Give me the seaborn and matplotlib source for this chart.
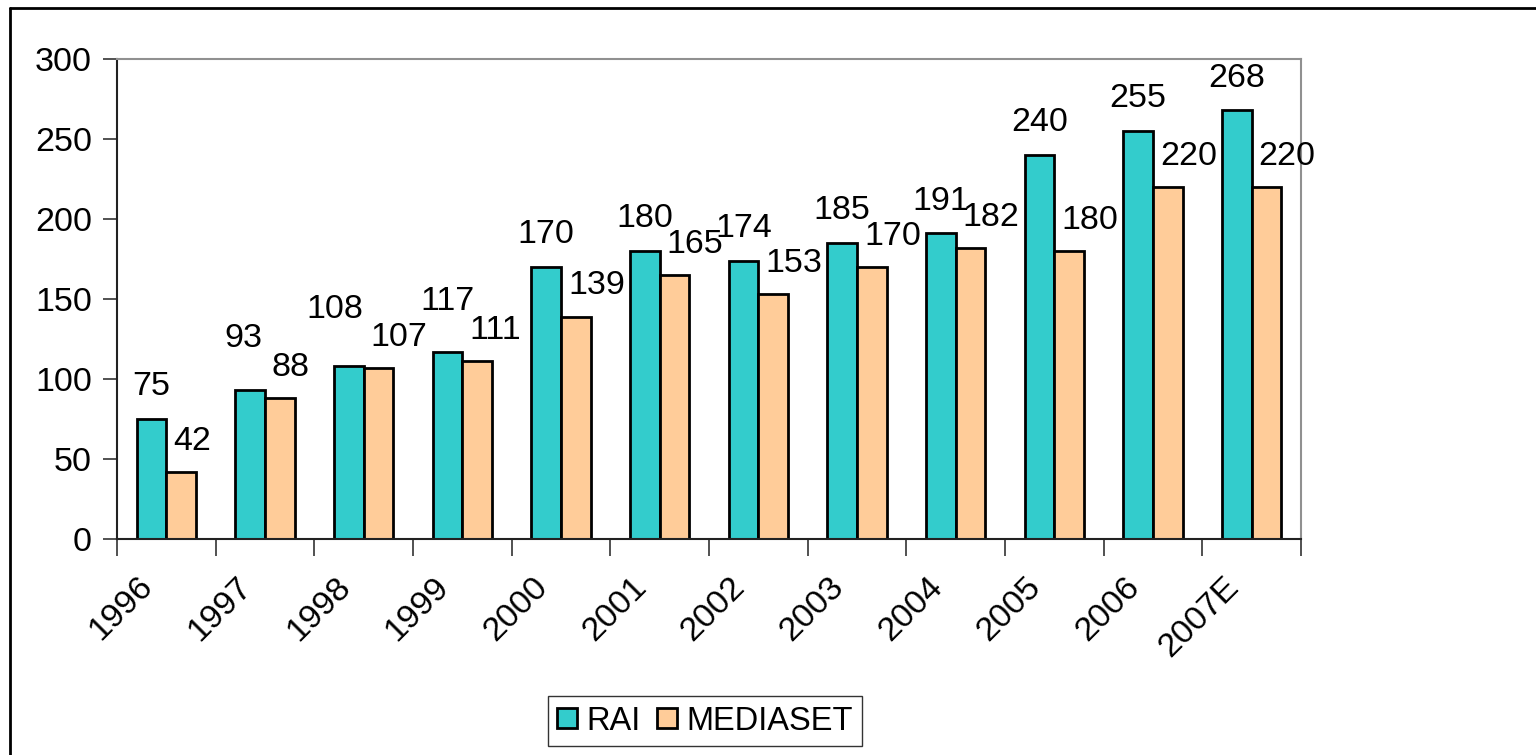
import matplotlib
matplotlib.use("Agg")
import matplotlib.pyplot as plt
import matplotlib.transforms as mtransforms
from matplotlib.lines import Line2D
import seaborn as sns
import pandas as pd

years = ["1996", "1997", "1998", "1999", "2000", "2001", "2002", "2003", "2004", "2005", "2006", "2007E"]
rai = [75, 93, 108, 117, 170, 180, 174, 185, 191, 240, 255, 268]
mediaset = [42, 88, 107, 111, 139, 165, 153, 170, 182, 180, 220, 220]
series_names = ["RAI", "MEDIASET"]
colors = ["#33CCCC", "#FFCC99"]
y_ticks = [0, 50, 100, 150, 200, 250, 300]
# label nudges (points) used in the original to avoid overlapping labels
rai_label_nudge = {"1997": (-5, 14), "1998": (-10, 18), "1999": (0, 13)}

df = pd.DataFrame({
    "year": years * 2,
    "company": [series_names[0]] * len(years) + [series_names[1]] * len(years),
    "value": rai + mediaset,
})

sns.set_theme(style="white")
plt.rcParams["font.family"] = ["Liberation Sans", "DejaVu Sans"]
plt.rcParams["text.color"] = "black"
plt.rcParams["xtick.color"] = "black"
plt.rcParams["ytick.color"] = "black"
plt.rcParams["xtick.labelcolor"] = "black"
plt.rcParams["ytick.labelcolor"] = "black"
FS = 24.5

fig = plt.figure(figsize=(15.36, 7.55), dpi=100)
ax = fig.add_axes([117 / 1536, 1 - 539 / 755, (1301 - 117) / 1536, (539 - 59) / 755])

sns.barplot(data=df, x="year", y="value", hue="company", order=years,
            hue_order=series_names, palette=colors, width=0.6, gap=0,
            edgecolor="black", linewidth=2.0, saturation=1, ax=ax, legend=True)

ax.set_xlim(-0.5, len(years) - 0.5)
ax.set_ylim(0, 300)
ax.set_yticks(y_ticks)
ax.set_yticklabels([str(t) for t in y_ticks], fontsize=FS)
ax.set_xlabel("")
ax.set_ylabel("")

# x ticks at category boundaries
ax.set_xticks(range(len(years)))
ax.set_xticklabels(years, fontsize=FS, rotation=45, ha="right", rotation_mode="anchor")
ax.set_xticks([i - 0.5 for i in range(len(years) + 1)], minor=True)
ax.tick_params(axis="x", which="major", length=0, pad=23)
ax.tick_params(axis="x", which="minor", length=12, width=1.2, color="#333333", direction="out", bottom=True)
ax.tick_params(axis="y", which="major", length=10, width=1.2, color="#333333", direction="out", left=True, pad=8)
offset = mtransforms.ScaledTranslation(-29 / 100, 0, fig.dpi_scale_trans)
for lbl in ax.get_xticklabels():
    lbl.set_transform(lbl.get_transform() + offset)

for side in ["top", "right"]:
    ax.spines[side].set_color("#909090")
    ax.spines[side].set_linewidth(1.5)
for side in ["left", "bottom"]:
    ax.spines[side].set_color("#222222")
    ax.spines[side].set_linewidth(1.5)
ax.grid(False)

# data labels
for ci, cont in enumerate(ax.containers):
    for yr, bar in zip(years, cont):
        h = bar.get_height()
        x = bar.get_x()
        w = bar.get_width()
        if ci == 0:
            dx, dy = rai_label_nudge.get(yr, (0, 0))
            ax.annotate(f"{int(round(h))}", (x + w / 2, h), xytext=(dx, 17 + dy),
                        textcoords="offset points", ha="center", va="baseline", fontsize=FS)
        else:
            ax.annotate(f"{int(round(h))}", (x, h), xytext=(5, 16),
                        textcoords="offset points", ha="left", va="baseline", fontsize=FS)

leg = ax.legend(loc="center", bbox_to_anchor=(705 / 1536, 1 - 721 / 755),
                bbox_transform=fig.transFigure, ncol=2, fontsize=23.5, frameon=True,
                fancybox=False, handlelength=0.6, handleheight=0.6, handletextpad=0.3,
                columnspacing=0.5, borderpad=0.28, borderaxespad=0)
leg.get_frame().set_edgecolor("black")
leg.get_frame().set_linewidth(1.0)

# outer chart border (left and top visible)
fig.add_artist(Line2D([9.5 / 1536, 9.5 / 1536], [0, 1 - 8 / 755], transform=fig.transFigure, color="black", lw=2))
fig.add_artist(Line2D([9.5 / 1536, 1], [1 - 8 / 755, 1 - 8 / 755], transform=fig.transFigure, color="black", lw=2))

fig.savefig("out.png", dpi=100)
